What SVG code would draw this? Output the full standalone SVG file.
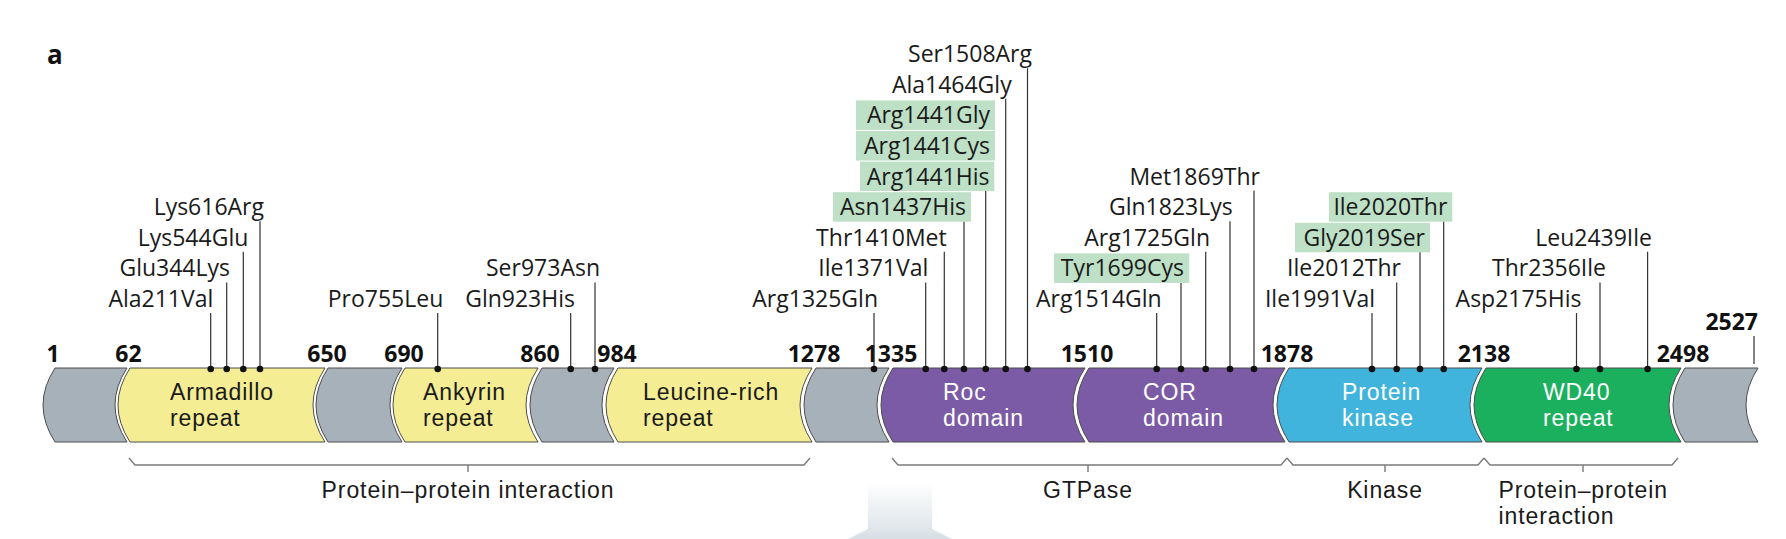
<svg xmlns="http://www.w3.org/2000/svg" width="1786" height="539" viewBox="0 0 1786 539">
<defs>
<linearGradient id="arrowGrad" x1="0" y1="0" x2="0" y2="1" gradientUnits="objectBoundingBox">
<stop offset="0" stop-color="#ffffff"/>
<stop offset="0.5" stop-color="#dfe6ea"/>
<stop offset="1" stop-color="#b9c6ce"/>
</linearGradient>
<style>
.t{font-family:"Open Sans","Liberation Sans",sans-serif;font-size:23px;fill:#1a1a1a}
.d{font-family:"Liberation Sans",Arial,sans-serif;font-size:23px;letter-spacing:0.9px;fill:#1a1a1a}
.e{text-anchor:end}
.m{text-anchor:middle}
.w{fill:#ffffff}
.n{font-family:"Open Sans","Liberation Sans",sans-serif;font-size:23px;font-weight:bold;fill:#111;text-anchor:middle}
.seg{stroke:#4d4d4d;stroke-width:1}
.gray{fill:#a6b1b9}
.yel{fill:#f4ed93}
.pur{fill:#7b5ba5}
.blu{fill:#40b4dc}
.grn{fill:#1bb05e}
.hl{fill:#bde0c6}
.tk{stroke:#333;stroke-width:1.2;fill:none}
.br{stroke:#7a7a7a;stroke-width:1.4;fill:none}
.dot{fill:#111}
</style>
</defs>
<rect width="1786" height="539" fill="#ffffff"/>
<text x="47" y="64" style="font-family:'Open Sans','Liberation Sans',sans-serif;font-size:26px;font-weight:bold;fill:#111">a</text>

<g id="protein-bar">
<g id="seg-1-62"><path class="seg gray" d="M55,368 H127 Q103,405 127,442 H55 Q31,405 55,368 Z"/></g>
<g id="seg-armadillo"><path class="seg yel" d="M130,368 H325 Q301,405 325,442 H130 Q106,405 130,368 Z"/>
<text class="d" x="170" y="400">Armadillo<tspan x="170" y="426">repeat</tspan></text></g>
<g id="seg-650-690"><path class="seg gray" d="M328,368 H402 Q378,405 402,442 H328 Q304,405 328,368 Z"/></g>
<g id="seg-ankyrin"><path class="seg yel" d="M405,368 H538 Q514,405 538,442 H405 Q381,405 405,368 Z"/>
<text class="d" x="423" y="400">Ankyrin<tspan x="423" y="426">repeat</tspan></text></g>
<g id="seg-860-984"><path class="seg gray" d="M542,368 H614 Q590,405 614,442 H542 Q518,405 542,368 Z"/></g>
<g id="seg-lrr"><path class="seg yel" d="M618,368 H812 Q788,405 812,442 H618 Q594,405 618,368 Z"/>
<text class="d" x="643" y="400">Leucine-rich<tspan x="643" y="426">repeat</tspan></text></g>
<g id="seg-1278-1335"><path class="seg gray" d="M816,368 H889 Q865,405 889,442 H816 Q792,405 816,368 Z"/></g>
<g id="seg-roc"><path class="seg pur" d="M893,368 H1085 Q1061,405 1085,442 H893 Q869,405 893,368 Z"/>
<text class="d w" x="943" y="400">Roc<tspan x="943" y="426">domain</tspan></text></g>
<g id="seg-cor"><path class="seg pur" d="M1089,368 H1285 Q1261,405 1285,442 H1089 Q1065,405 1089,368 Z"/>
<text class="d w" x="1143" y="400">COR<tspan x="1143" y="426">domain</tspan></text></g>
<g id="seg-kinase"><path class="seg blu" d="M1289,368 H1482 Q1458,405 1482,442 H1289 Q1265,405 1289,368 Z"/>
<text class="d w" x="1342" y="400">Protein<tspan x="1342" y="426">kinase</tspan></text></g>
<g id="seg-wd40"><path class="seg grn" d="M1486,368 H1681 Q1657,405 1681,442 H1486 Q1462,405 1486,368 Z"/>
<text class="d w" x="1543" y="400">WD40<tspan x="1543" y="426">repeat</tspan></text></g>
<g id="seg-2498-2527"><path class="seg gray" d="M1685,368 H1758 Q1734,405 1758,442 H1685 Q1661,405 1685,368 Z"/></g>
</g>

<g id="positions">
<text class="n" x="53" y="362">1</text>
<text class="n" x="128.5" y="362">62</text>
<text class="n" x="327" y="362">650</text>
<text class="n" x="404" y="362">690</text>
<text class="n" x="540" y="362">860</text>
<text class="n" x="617" y="362">984</text>
<text class="n" x="814" y="362">1278</text>
<text class="n" x="891" y="362">1335</text>
<text class="n" x="1087" y="362">1510</text>
<text class="n" x="1287" y="362">1878</text>
<text class="n" x="1484" y="362">2138</text>
<text class="n" x="1683" y="362">2498</text>
<text class="n" x="1758" y="330" style="text-anchor:end">2527</text>
</g>

<g id="highlights">
<rect class="hl" x="856" y="100.4" width="139" height="29.5"/>
<rect class="hl" x="856" y="131" width="139" height="29.5"/>
<rect class="hl" x="860" y="161.6" width="134.3" height="29.5"/>
<rect class="hl" x="833" y="192.2" width="138" height="29.5"/>
<rect class="hl" x="1054" y="253.4" width="135.3" height="29.5"/>
<rect class="hl" x="1295" y="222.8" width="135" height="29.5"/>
<rect class="hl" x="1329" y="192.2" width="123.3" height="29.5"/>
</g>

<g id="mutation-labels">
<g id="m-Ala211Val"><text class="t e" x="213.3" y="307">Ala211Val</text></g>
<g id="m-Glu344Lys"><text class="t e" x="230" y="276.4">Glu344Lys</text></g>
<g id="m-Lys544Glu"><text class="t e" x="248.3" y="245.8">Lys544Glu</text></g>
<g id="m-Lys616Arg"><text class="t e" x="264" y="215.2">Lys616Arg</text></g>
<g id="m-Pro755Leu"><text class="t e" x="443.3" y="307">Pro755Leu</text></g>
<g id="m-Gln923His"><text class="t e" x="575" y="307">Gln923His</text></g>
<g id="m-Ser973Asn"><text class="t e" x="600" y="276.4">Ser973Asn</text></g>
<g id="m-Arg1325Gln"><text class="t e" x="878" y="307">Arg1325Gln</text></g>
<g id="m-Ile1371Val"><text class="t e" x="928.3" y="276.4">Ile1371Val</text></g>
<g id="m-Thr1410Met"><text class="t e" x="946.7" y="245.8">Thr1410Met</text></g>
<g id="m-Asn1437His"><text class="t e" x="966" y="215.2">Asn1437His</text></g>
<g id="m-Arg1441His"><text class="t e" x="989.5" y="184.6">Arg1441His</text></g>
<g id="m-Arg1441Cys"><text class="t e" x="990" y="154">Arg1441Cys</text></g>
<g id="m-Arg1441Gly"><text class="t e" x="990" y="123.4">Arg1441Gly</text></g>
<g id="m-Ala1464Gly"><text class="t e" x="1011.7" y="92.8">Ala1464Gly</text></g>
<g id="m-Ser1508Arg"><text class="t e" x="1032" y="62.2">Ser1508Arg</text></g>
<g id="m-Arg1514Gln"><text class="t e" x="1161.7" y="307">Arg1514Gln</text></g>
<g id="m-Tyr1699Cys"><text class="t e" x="1184" y="276.4">Tyr1699Cys</text></g>
<g id="m-Arg1725Gln"><text class="t e" x="1210" y="245.8">Arg1725Gln</text></g>
<g id="m-Gln1823Lys"><text class="t e" x="1232.7" y="215.2">Gln1823Lys</text></g>
<g id="m-Met1869Thr"><text class="t e" x="1260" y="184.6">Met1869Thr</text></g>
<g id="m-Ile1991Val"><text class="t e" x="1375" y="307">Ile1991Val</text></g>
<g id="m-Ile2012Thr"><text class="t e" x="1401" y="276.4">Ile2012Thr</text></g>
<g id="m-Gly2019Ser"><text class="t e" x="1425" y="245.8">Gly2019Ser</text></g>
<g id="m-Ile2020Thr"><text class="t e" x="1447.3" y="215.2">Ile2020Thr</text></g>
<g id="m-Asp2175His"><text class="t e" x="1581.5" y="307">Asp2175His</text></g>
<g id="m-Thr2356Ile"><text class="t e" x="1606" y="276.4">Thr2356Ile</text></g>
<g id="m-Leu2439Ile"><text class="t e" x="1652" y="245.8">Leu2439Ile</text></g>
</g>

<g id="connectors">
<path class="tk" d="M210.7,313 V369 M226.7,282.4 V369 M243.3,251.8 V369 M260,221.2 V369 M437.7,313 V369 M570.7,313 V369 M595,282.4 V369 M874,313 V369 M925.7,282.4 V369 M944.3,251.8 V369 M964,221.7 V369 M985.7,191.1 V369 M1005.7,98.8 V369 M1027.5,68.2 V369 M1156.7,313 V369 M1181,282.9 V369 M1205.7,251.8 V369 M1230,221.2 V369 M1254,190.6 V369 M1372,313 V369 M1396.7,282.4 V369 M1420,252.3 V369 M1443.7,221.7 V369 M1576.5,313 V369 M1600,282.4 V369 M1647.6,251.8 V369 M1754,336 V364"/>
<g class="dot">
<circle cx="210.7" cy="369" r="3.3"/><circle cx="226.7" cy="369" r="3.3"/><circle cx="243.3" cy="369" r="3.3"/><circle cx="260" cy="369" r="3.3"/>
<circle cx="437.7" cy="369" r="3.3"/><circle cx="570.7" cy="369" r="3.3"/><circle cx="595" cy="369" r="3.3"/>
<circle cx="874" cy="369" r="3.3"/><circle cx="925.7" cy="369" r="3.3"/><circle cx="944.3" cy="369" r="3.3"/><circle cx="964" cy="369" r="3.3"/><circle cx="985.7" cy="369" r="3.3"/><circle cx="1005.7" cy="369" r="3.3"/><circle cx="1027.5" cy="369" r="3.3"/>
<circle cx="1156.7" cy="369" r="3.3"/><circle cx="1181" cy="369" r="3.3"/><circle cx="1205.7" cy="369" r="3.3"/><circle cx="1230" cy="369" r="3.3"/><circle cx="1254" cy="369" r="3.3"/>
<circle cx="1372" cy="369" r="3.3"/><circle cx="1396.7" cy="369" r="3.3"/><circle cx="1420" cy="369" r="3.3"/><circle cx="1443.7" cy="369" r="3.3"/>
<circle cx="1576.5" cy="369" r="3.3"/><circle cx="1600" cy="369" r="3.3"/><circle cx="1647.6" cy="369" r="3.3"/>
</g>
</g>

<g id="brackets">
<g id="br-ppi1"><path class="br" d="M129,458 L135,465 H804 L810,458 M468,465 V472"/>
<text class="d m" x="468" y="498">Protein–protein interaction</text></g>
<g id="br-gtpase"><path class="br" d="M892,458 L898,465 H1281 L1287,458 M1088,465 V472"/>
<text class="d m" x="1088" y="498">GTPase</text></g>
<g id="br-kinase"><path class="br" d="M1287,458 L1293,465 H1478 L1484,458 M1385,465 V472"/>
<text class="d m" x="1385" y="498">Kinase</text></g>
<g id="br-ppi2"><path class="br" d="M1484,458 L1490,465 H1672 L1678,458 M1583,465 V472"/>
<text class="d" x="1498.5" y="498">Protein–protein<tspan x="1498.5" y="524">interaction</tspan></text></g>
</g>

<g id="down-arrow">
<path d="M868,482 H932 V529 L952,539 L900,575 L848,539 L868,529 Z" fill="url(#arrowGrad)"/>
</g>
</svg>
